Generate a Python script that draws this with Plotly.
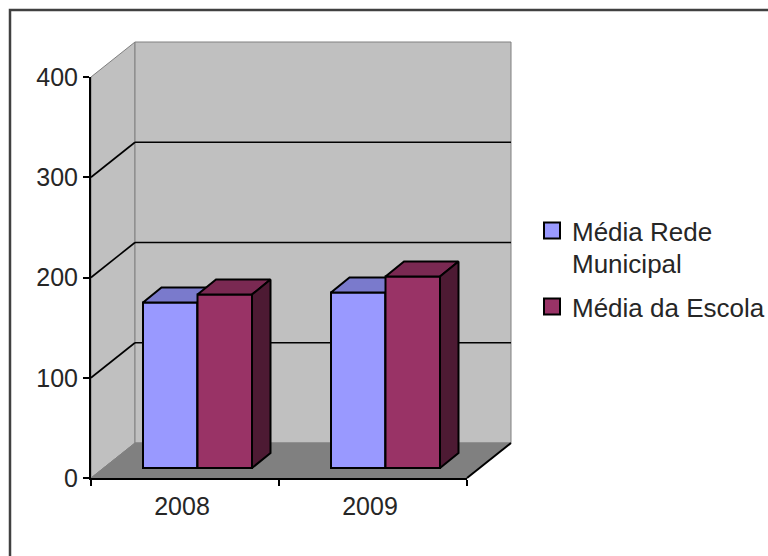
import plotly.graph_objects as go

categories = ["2008", "2009"]
rede_municipal = [165, 175]
escola = [173, 191]
y_ticks = [0, 100, 200, 300, 400]
series_names = ["Média Rede", "Municipal", "Média da Escola"]

W, H = 768, 556
X0, X2 = 91, 467      # pixel ends of the front category axis
Y0, Y400 = 478, 77    # pixel ends of the front value axis
WALL_DX, WALL_DY = 44, 35   # depth of the box, px
BAR_OFF_X, BAR_OFF_Y = 12.5, 10  # bars stand this far behind the front plane, px
BAR_DX, BAR_DY = 18.5, 15        # depth of a bar, px

ux = (X2 - X0) / 2
uy = (Y0 - Y400) / 400
px = lambda v: (X0 + v * ux) / W
py = lambda v: (H - (Y0 - v * uy)) / H
sx = lambda p: p / W
sy = lambda p: p / H

FONT = "Liberation Sans"
TXT = "#262626"
BLUE, BLUE_TOP, BLUE_SIDE = "#9999FF", "#7A7ACC", "#4D4D80"
MAR, MAR_TOP, MAR_SIDE = "#993366", "#7A2952", "#4D1A33"
bw = 54.5 / ux
offx, offy = BAR_OFF_X / ux, BAR_OFF_Y / uy
ddx, ddy = BAR_DX / ux, BAR_DY / uy
dwx, dwy = WALL_DX / ux, WALL_DY / uy


def poly(points, fill, line="#808080", width=1):
    path = "M" + " L".join(f"{px(a)},{py(b)}" for a, b in points) + " Z"
    return dict(type="path", xref="paper", yref="paper", path=path, fillcolor=fill,
                line=dict(color=line, width=width), layer="below")


def seg(a, b, c, d, color="black", width=1.6, dash="solid"):
    return dict(type="line", xref="paper", yref="paper", x0=px(a), y0=py(b), x1=px(c), y1=py(d),
                line=dict(color=color, width=width, dash=dash), layer="below")


shapes = [
    poly([(0, 0), (dwx, dwy), (dwx, 400 + dwy), (0, 400)], "#C0C0C0"),
    poly([(dwx, dwy), (2 + dwx, dwy), (2 + dwx, 400 + dwy), (dwx, 400 + dwy)], "#C0C0C0"),
    poly([(0, 0), (2, 0), (2 + dwx, dwy), (dwx, dwy)], "#808080", "#808080"),
]
for t in y_ticks[1:-1]:
    shapes.append(seg(0, t, dwx, t + dwy))
    shapes.append(seg(dwx, t + dwy, 2 + dwx, t + dwy))
shapes.append(seg(2, 0, 2 + dwx, dwy, width=2))
# outer chart border (left and top, right edge and bottom run off the image)
shapes.append(dict(type="rect", xref="paper", yref="paper",
                   x0=sx(10), x1=sx(W + 10), y0=1 - sy(H + 10), y1=1 - sy(10),
                   line=dict(color="#404040", width=2.5), fillcolor="rgba(0,0,0,0)", layer="below"))


def box_faces(centers, vals, top, side, xa, ya):
    out = []
    for c, v in zip(centers, vals):
        l, r = c - bw / 2, c + bw / 2
        b = offy
        t = b + v
        out.append(go.Scatter(x=[l, r, r + ddx, l + ddx, l], y=[t, t, t + ddy, t + ddy, t],
                              fill="toself", fillcolor=top, mode="lines",
                              line=dict(color="black", width=2), showlegend=False,
                              hoverinfo="skip", cliponaxis=False, xaxis=xa, yaxis=ya))
        out.append(go.Scatter(x=[r, r + ddx, r + ddx, r, r], y=[b, b + ddy, t + ddy, t, b],
                              fill="toself", fillcolor=side, mode="lines",
                              line=dict(color="black", width=2), showlegend=False,
                              hoverinfo="skip", cliponaxis=False, xaxis=xa, yaxis=ya))
    return out


idx = range(len(categories))
blue_x = [i + 0.5 + offx - bw / 2 for i in idx]
mar_x = [i + 0.5 + offx + bw / 2 for i in idx]

fig = go.Figure()
fig.add_trace(go.Bar(x=blue_x, y=rede_municipal, base=offy, width=bw, marker=dict(color=BLUE, line=dict(color="black", width=2)),
                     showlegend=False, cliponaxis=False, xaxis="x", yaxis="y"))
for tr in box_faces(blue_x, rede_municipal, BLUE_TOP, BLUE_SIDE, "x", "y"):
    fig.add_trace(tr)
fig.add_trace(go.Bar(x=mar_x, y=escola, base=offy, width=bw, marker=dict(color=MAR, line=dict(color="black", width=2)),
                     showlegend=False, cliponaxis=False, xaxis="x2", yaxis="y2"))
for tr in box_faces(mar_x, escola, MAR_TOP, MAR_SIDE, "x2", "y2"):
    fig.add_trace(tr)
# legend rows: the second row continues the first series' label and has no swatch
swatches = [BLUE, "rgba(0,0,0,0)", MAR]
swatch_lines = ["black", "rgba(0,0,0,0)", "black"]
legend_ids = ["legend", "legend2", "legend3"]
for name, col, lc, lid in zip(series_names, swatches, swatch_lines, legend_ids):
    fig.add_trace(go.Scatter(x=[None], y=[None], mode="markers", name=name, legend=lid,
                             marker=dict(symbol="square", size=16, color=col,
                                         line=dict(color=lc, width=2))))


def legend_row(top):
    return dict(x=sx(532), xanchor="left", y=1 - sy(top), yanchor="top",
                bgcolor="rgba(0,0,0,0)", font=dict(family=FONT, size=26, color=TXT))


xdom = [sx(X0), sx(X2)]
ydom = [1 - sy(Y0), 1 - sy(Y400)]
fig.update_layout(
    width=W, height=H, autosize=False,
    margin=dict(l=0, r=0, t=0, b=0, autoexpand=False),
    paper_bgcolor="white", plot_bgcolor="rgba(0,0,0,0)",
    barmode="overlay", shapes=shapes,
    font=dict(family=FONT, size=25, color=TXT),
    xaxis=dict(domain=xdom, range=[0, 2], tickmode="array",
               tickvals=[i + 0.5 - 3 / ux for i in idx], ticktext=categories, ticks="", showgrid=False,
               zeroline=False, showline=True, linecolor="black", linewidth=2,
               tickfont=dict(family=FONT, size=25, color=TXT),
               minor=dict(tickmode="array", tickvals=[0, 1, 2], ticks="outside", ticklen=6,
                          tickwidth=2, tickcolor="black", showgrid=False),
               ticklabelstandoff=5),
    yaxis=dict(domain=ydom, range=[0, 400], tickmode="array", tickvals=y_ticks, ticks="outside",
               ticklen=6, tickwidth=2, tickcolor="black", showgrid=False, zeroline=False,
               showline=True, linecolor="black", linewidth=2,
               tickfont=dict(family=FONT, size=25, color=TXT)),
    xaxis2=dict(domain=xdom, range=[0, 2], overlaying="x", anchor="y2", visible=False),
    yaxis2=dict(domain=ydom, range=[0, 400], overlaying="y", anchor="x2", visible=False),
    legend=legend_row(207),
    legend2=legend_row(239),
    legend3=legend_row(283),
    hovermode=False,
)
fig.write_html("out.html", config=dict(displayModeBar=False),
               post_script="document.body.style.margin='0';")
